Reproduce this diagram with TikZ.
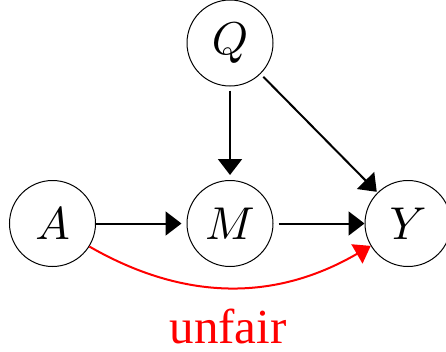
\documentclass[tikz,border=0pt]{standalone}
\DeclareFontFamily{OML}{cmm}{\skewchar\font'177}
\DeclareFontShape{OML}{cmm}{m}{it}{<->cmmi10}{}
\usepackage{fontspec}
\newfontfamily\timesfont{Liberation Serif}
\usetikzlibrary{arrows.meta}
\begin{document}
\begin{tikzpicture}[x=1pt,y=-1pt,
  var/.style={circle,draw,line width=1pt,minimum size=86pt,inner sep=0pt,font=\fontsize{46}{50}\selectfont},
  edge/.style={line width=2pt,-{Triangle[length=16pt,width=24pt]}},
  redge/.style={line width=2pt,red,-{Triangle[length=16pt,width=22pt]}}]
\useasboundingbox (0,0) rectangle (446,351);
\node[var] (Q) at (230,43) {$Q$};
\node[var] (A) at (52.5,223.5) {$A$};
\node[var] (M) at (230,223.5) {$M$};
\node[var] (Y) at (408,223.5) {$Y$};
\draw[edge,shorten >=5pt] (A) -- (M);
\draw[edge,shorten <=5pt] (M) -- (Y);
\draw[edge,shorten <=4pt,shorten >=5pt] (Q) -- (M);
\draw[edge,shorten <=4pt,shorten >=1pt] (Q) -- (Y);
\draw[redge] (A.-32) to[bend right=30] (Y.211);
\node[text=red,font=\timesfont\fontsize{49}{52}\selectfont,anchor=base,inner sep=0pt] (u) at (228,343) {unfair};
\end{tikzpicture}
\end{document}
